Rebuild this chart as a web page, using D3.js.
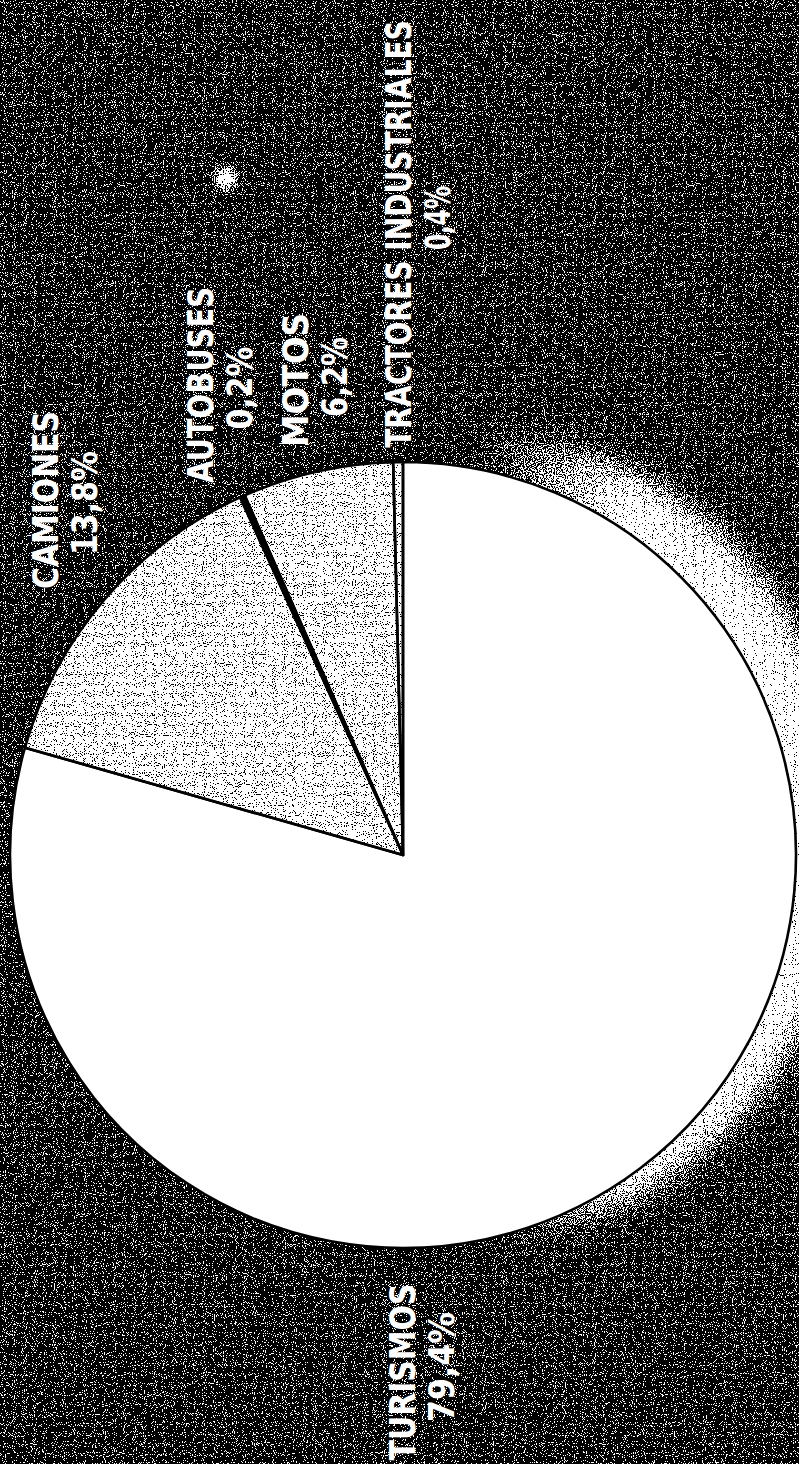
<!DOCTYPE html>
<html><head><meta charset="utf-8">
<script src="https://cdn.jsdelivr.net/npm/d3@7"></script>
<style>html,body{margin:0;padding:0;background:#000;}svg{display:block}</style>
</head><body><div id="chart"></div>
<script>
// ---- data ----
const categories = ["TRACTORES INDUSTRIALES", "MOTOS", "AUTOBUSES", "CAMIONES", "TURISMOS"];
const values = [0.4, 6.2, 0.2, 13.8, 79.4];
// ---- style / layout (separate from data) ----
const fillKind = ["dots", "dots", "black", "dots", "white"];
// label anchors: baseline x of name, centre y, target length of name and of value
const labelLayout = [
  {bx: 411, cy: 234, nLen: 428, vLen: 64, vcy: 218},
  {bx: 308, cy: 380, nLen: 134, vLen: 80, vcy: 377},
  {bx: 213, cy: 385, nLen: 196, vLen: 83, vcy: 388},
  {bx: 58,  cy: 500, nLen: 178, vLen: 104, vcy: 503},
  {bx: 415, cy: 1372, nLen: 177, vLen: 110, vcy: 1367}
];
const W = 799, H = 1464, cx = 403, cy = 855, R = 393, lineGap = 39;

const svg = d3.select("#chart").append("svg").attr("width", W).attr("height", H);
const defs = svg.append("defs");

function halftone(id, seed) {
  const f = defs.append("filter").attr("id", id).attr("filterUnits", "userSpaceOnUse")
    .attr("x", 0).attr("y", 0).attr("width", W).attr("height", H)
    .attr("color-interpolation-filters", "sRGB");
  f.append("feTurbulence").attr("type", "fractalNoise").attr("baseFrequency", 0.9)
    .attr("numOctaves", 1).attr("seed", seed).attr("result", "n");
  f.append("feColorMatrix").attr("in", "n").attr("type", "matrix")
    .attr("values", "1 0 0 0 0  1 0 0 0 0  1 0 0 0 0  0 0 0 0 1").attr("result", "g");
  f.append("feComposite").attr("in", "SourceGraphic").attr("in2", "g").attr("operator", "arithmetic")
    .attr("k1", 0).attr("k2", 1).attr("k3", 3).attr("k4", -1.5).attr("result", "s");
  const ct = f.append("feComponentTransfer").attr("in", "s").attr("result", "b");
  ["feFuncR", "feFuncG", "feFuncB"].forEach(t => ct.append(t).attr("type", "discrete").attr("tableValues", "0 1"));
  ct.append("feFuncA").attr("type", "linear").attr("slope", 0).attr("intercept", 1);
  f.append("feComposite").attr("in", "b").attr("in2", "SourceAlpha").attr("operator", "in");
}
halftone("ht1", 3);
halftone("ht2", 11);
defs.append("filter").attr("id", "blur").attr("x", "-30%").attr("y", "-30%").attr("width", "160%").attr("height", "160%")
  .append("feGaussianBlur").attr("stdDeviation", 16);
defs.append("filter").attr("id", "blurS").attr("x", "-200%").attr("y", "-200%").attr("width", "500%").attr("height", "500%")
  .append("feGaussianBlur").attr("stdDeviation", 4);
const lg = defs.append("linearGradient").attr("id", "haloFade").attr("gradientUnits", "userSpaceOnUse")
  .attr("x1", 470).attr("y1", 0).attr("x2", 630).attr("y2", 0);
lg.append("stop").attr("offset", 0).attr("stop-color", "#000");
lg.append("stop").attr("offset", 1).attr("stop-color", "#fff");
defs.append("mask").attr("id", "haloMask").attr("maskUnits", "userSpaceOnUse")
  .attr("x", 0).attr("y", 0).attr("width", W).attr("height", H)
  .append("rect").attr("width", W).attr("height", H).attr("fill", "url(#haloFade)");

// background (halftoned)
const bg = svg.append("g").attr("filter", "url(#ht1)");
bg.append("rect").attr("width", W).attr("height", H).attr("fill", "rgb(36,36,36)");
bg.append("g").attr("mask", "url(#haloMask)")
  .append("circle").attr("cx", cx + 40).attr("cy", cy - 20).attr("r", R + 15)
  .attr("fill", "#fff").attr("filter", "url(#blur)");
bg.append("circle").attr("cx", 226).attr("cy", 179).attr("r", 11)
  .attr("fill", "#fff").attr("filter", "url(#blurS)");
bg.append("circle").attr("cx", 226).attr("cy", 179).attr("r", 6).attr("fill", "#fff");

// pie
const data = categories.map((c, i) => ({name: c, value: values[i], kind: fillKind[i], lay: labelLayout[i]}));
const pie = d3.pie().sort(null).value(d => d.value).startAngle(0).endAngle(-2 * Math.PI);
const arcs = pie(data);
const arc = d3.arc().innerRadius(0).outerRadius(R);

const solid = svg.append("g").attr("transform", `translate(${cx},${cy})`);
solid.selectAll("path").data(arcs.filter(a => a.data.kind !== "dots")).join("path")
  .attr("d", arc).attr("fill", d => d.data.kind === "black" ? "#000" : "#fff");

const dotsOuter = svg.append("g").attr("filter", "url(#ht2)");
dotsOuter.append("g").attr("transform", `translate(${cx},${cy})`)
  .selectAll("path").data(arcs.filter(a => a.data.kind === "dots")).join("path")
  .attr("d", arc).attr("fill", "rgb(226,226,226)");

svg.append("g").attr("transform", `translate(${cx},${cy})`)
  .selectAll("path").data(arcs).join("path")
  .attr("d", arc).attr("fill", "none").attr("stroke", "#000")
  .attr("stroke-width", 2.6).attr("stroke-linejoin", "round");

// labels (rotated, reading bottom-to-top), horizontally scaled to the measured length
const fmt = v => d3.format(".1f")(v).replace(".", ",") + "%";
const lab = svg.append("g").attr("fill", "#fff")
  .style("font-family", "'DejaVu Sans Condensed','DejaVu Sans',sans-serif")
  .style("font-weight", "bold").style("font-size", "36px");
function rotLabel(txt, x, y, len) {
  const t = lab.append("text").attr("text-anchor", "middle").text(txt);
  const nat = t.node().getComputedTextLength() || len;
  t.attr("transform", `translate(${x},${y}) rotate(-90) scale(${len / nat},1)`);
}
arcs.forEach(a => {
  const L = a.data.lay;
  rotLabel(a.data.name, L.bx, L.cy, L.nLen);
  rotLabel(fmt(a.data.value), L.bx + lineGap, L.vcy, L.vLen);
});
</script></body></html>
